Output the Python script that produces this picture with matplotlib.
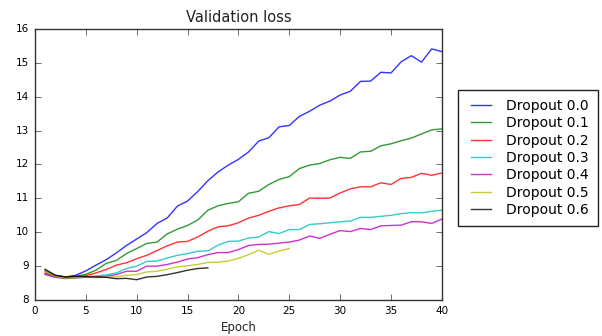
import numpy as np
import matplotlib
matplotlib.use("Agg")
import matplotlib.pyplot as plt

# Validation loss per epoch
loss_d00 = [8.86, 8.73, 8.68, 8.73, 8.86, 9.03, 9.19, 9.39, 9.61, 9.80,
            9.99, 10.26, 10.42, 10.77, 10.92, 11.20, 11.52, 11.78, 11.98, 12.15,
            12.37, 12.69, 12.79, 13.11, 13.15, 13.42, 13.57, 13.75, 13.87, 14.05,
            14.16, 14.45, 14.46, 14.72, 14.70, 15.03, 15.21, 15.02, 15.41, 15.33]
loss_d01 = [8.86, 8.72, 8.68, 8.70, 8.76, 8.88, 9.08, 9.17, 9.37, 9.52,
            9.67, 9.71, 9.95, 10.09, 10.20, 10.36, 10.65, 10.78, 10.85, 10.90,
            11.15, 11.21, 11.41, 11.56, 11.64, 11.88, 11.98, 12.03, 12.14, 12.21,
            12.18, 12.37, 12.39, 12.55, 12.61, 12.70, 12.78, 12.90, 13.02, 13.05]
loss_d02 = [8.80, 8.70, 8.68, 8.68, 8.72, 8.80, 8.90, 9.03, 9.10, 9.22,
            9.32, 9.46, 9.60, 9.71, 9.73, 9.86, 10.03, 10.16, 10.19, 10.28,
            10.42, 10.50, 10.62, 10.72, 10.78, 10.82, 11.01, 11.00, 11.01, 11.16,
            11.28, 11.34, 11.34, 11.46, 11.41, 11.59, 11.62, 11.74, 11.68, 11.75]
loss_d03 = [8.76, 8.68, 8.63, 8.65, 8.68, 8.71, 8.74, 8.80, 8.93, 9.00,
            9.14, 9.15, 9.24, 9.32, 9.37, 9.44, 9.45, 9.62, 9.73, 9.74,
            9.83, 9.86, 10.02, 9.96, 10.08, 10.08, 10.23, 10.25, 10.28, 10.31,
            10.33, 10.44, 10.44, 10.47, 10.50, 10.55, 10.58, 10.57, 10.62, 10.65]
loss_d04 = [8.76, 8.67, 8.65, 8.66, 8.67, 8.68, 8.70, 8.75, 8.85, 8.85,
            9.00, 9.00, 9.05, 9.12, 9.21, 9.25, 9.34, 9.40, 9.40, 9.49,
            9.61, 9.64, 9.65, 9.68, 9.71, 9.77, 9.89, 9.82, 9.94, 10.05,
            10.02, 10.11, 10.08, 10.19, 10.20, 10.21, 10.31, 10.31, 10.26, 10.39]
loss_d05 = [8.85, 8.70, 8.65, 8.66, 8.68, 8.66, 8.68, 8.68, 8.73, 8.75,
            8.83, 8.85, 8.91, 8.98, 9.01, 9.05, 9.11, 9.12, 9.15, 9.23,
            9.34, 9.47, 9.35, 9.45, 9.52]
loss_d06 = [8.91, 8.73, 8.68, 8.70, 8.69, 8.68, 8.67, 8.63, 8.64, 8.60,
            8.68, 8.70, 8.75, 8.81, 8.88, 8.93, 8.95]

labels = ["Dropout 0.0", "Dropout 0.1", "Dropout 0.2", "Dropout 0.3",
          "Dropout 0.4", "Dropout 0.5", "Dropout 0.6"]
series = [loss_d00, loss_d01, loss_d02, loss_d03, loss_d04, loss_d05, loss_d06]
colors = ["b", "g", "r", "c", "m", "y", "k"]

plt.style.use("classic")
plt.rcParams["font.family"] = "DejaVu Sans"

fig = plt.figure(figsize=(6.02, 3.36), dpi=100, facecolor="white")
ax = fig.add_axes([0.058, 0.107, 0.676, 0.807])

for vals, lab, col in zip(series, labels, colors):
    epochs = np.arange(1, len(vals) + 1)
    ax.plot(epochs, vals, color=col, label=lab, alpha=0.8, linewidth=1.0)

ax.set_xlim(0, 40)
ax.set_ylim(8, 16)
ax.set_xticks(range(0, 41, 5))
ax.set_yticks(range(8, 17))
ax.tick_params(labelsize=7.5, length=4, color="#333333")
for sp in ax.spines.values():
    sp.set_color("#333333")
ax.set_title("Validation loss", fontsize=10.5, color="#222222")
ax.set_xlabel("Epoch", fontsize=8.5, color="#222222", labelpad=4)

leg = ax.legend(loc="upper left", bbox_to_anchor=(1.04, 0.775), borderaxespad=0,
                fontsize=10, handlelength=2.0, frameon=True, fancybox=False,
                borderpad=0.65, labelspacing=0.24)
leg.get_frame().set_edgecolor("#222222")

fig.savefig("out.png", dpi=100, facecolor="white")
